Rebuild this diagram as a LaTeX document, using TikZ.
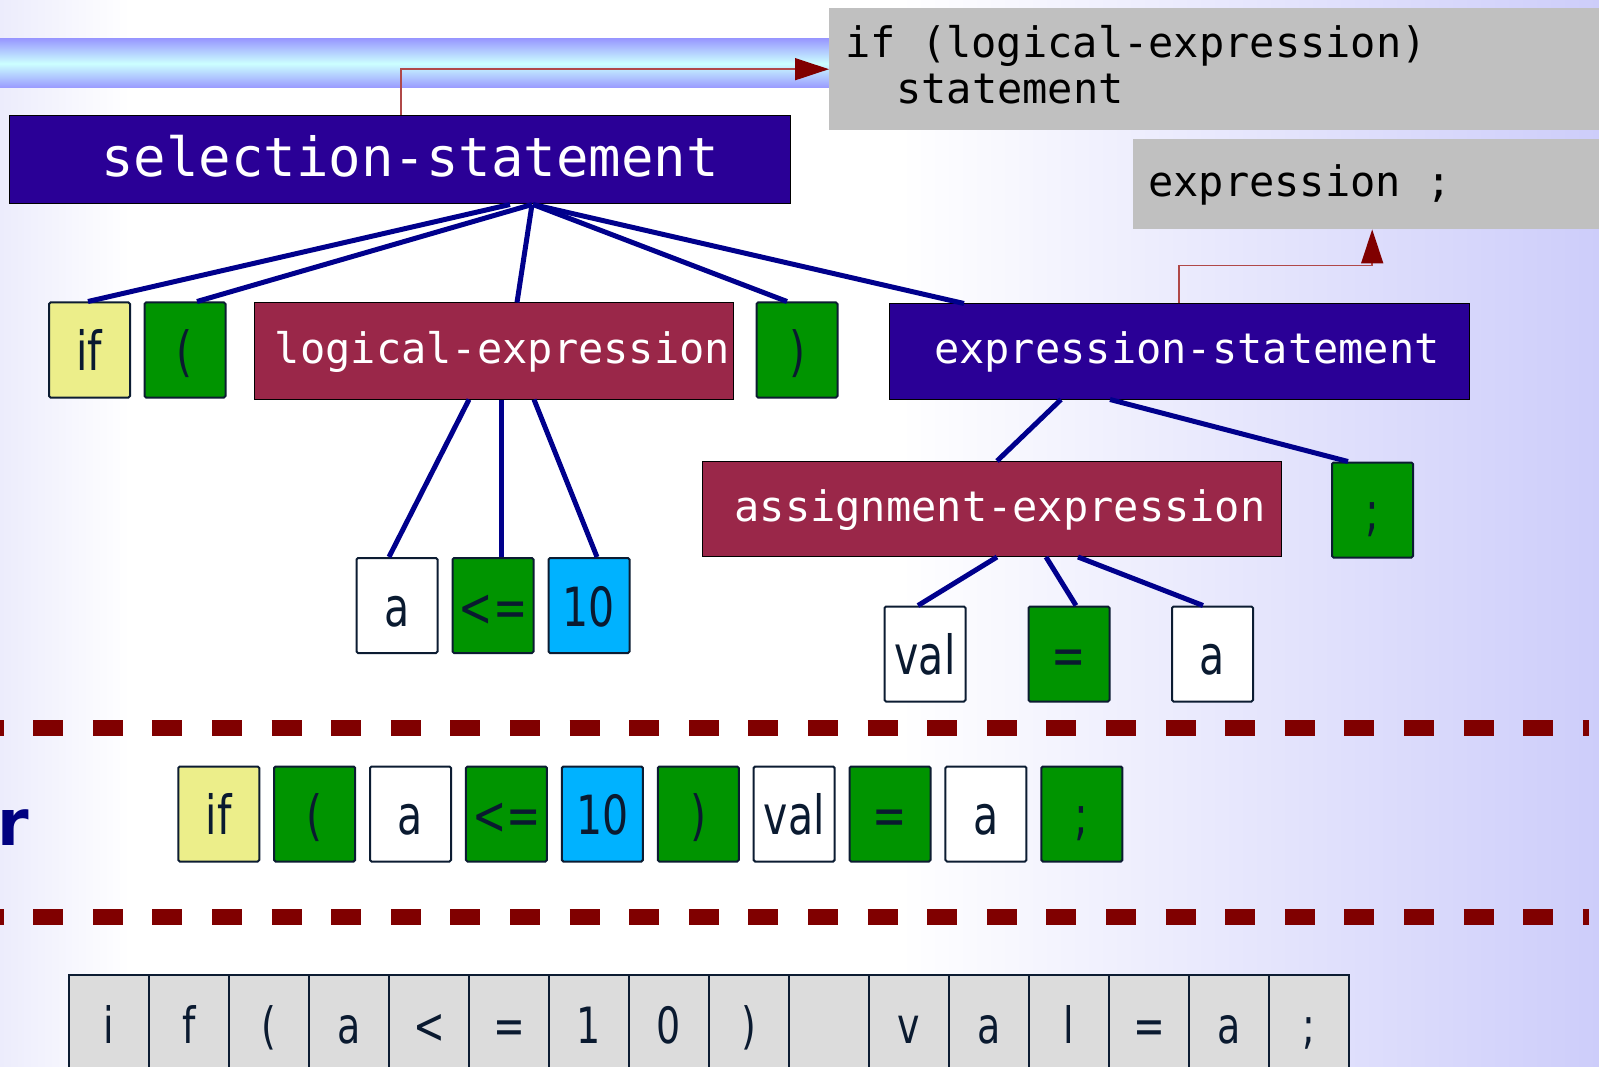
\documentclass[tikz,border=0pt]{standalone}
\usepackage{fontspec}
\setmainfont{DejaVu Sans}
\newfontfamily\monof{DejaVu Sans Mono}
\newfontfamily\tokf[FakeStretch=0.76]{DejaVu Sans}
\usetikzlibrary{arrows.meta}
\definecolor{indigo}{RGB}{42,0,150}
\definecolor{crimson}{RGB}{154,39,73}
\definecolor{tgreen}{RGB}{0,148,0}
\definecolor{tcyan}{RGB}{0,178,255}
\definecolor{khaki}{RGB}{236,238,138}
\definecolor{tokline}{RGB}{12,28,50}
\definecolor{toktext}{RGB}{10,26,48}
\definecolor{cellgray}{RGB}{220,220,220}
\definecolor{graybox}{RGB}{192,192,192}
\definecolor{edgeblue}{RGB}{0,0,140}
\definecolor{refline}{RGB}{176,72,72}
\definecolor{refdark}{RGB}{128,0,0}
\definecolor{dashred}{RGB}{128,0,0}
\definecolor{barblue}{RGB}{153,153,255}
\definecolor{barcyan}{RGB}{204,255,255}
\definecolor{bgl}{RGB}{236,236,252}
\definecolor{bgr}{RGB}{205,205,250}
\definecolor{rnavy}{RGB}{0,0,128}
\begin{document}
\begin{tikzpicture}[x=1pt,y=-1pt,
  tok/.style={draw=tokline, line width=2pt, rounded corners=1.5pt, minimum width=81pt, minimum height=95pt, inner sep=0pt, text height=41pt, text depth=0pt, text=toktext, font=\tokf\fontsize{54}{60}\selectfont},
  ntbox/.style={draw=black, line width=1pt, inner sep=0pt, text=white, font=\monof\fontsize{42}{48}\selectfont, text height=32pt, text depth=8pt},
  cell/.style={draw=tokline, line width=2pt, fill=cellgray, minimum width=80pt, inner sep=0pt, text height=68pt, text depth=50pt, anchor=north, text=toktext, font=\tokf\fontsize{50}{56}\selectfont},
  gbox/.style={fill=graybox, inner sep=0pt, anchor=north west},
  gtext/.style={anchor=base west, inner sep=0pt, text=black, font=\monof\fontsize{42}{48}\selectfont},
  edge/.style={draw=edgeblue, line width=5pt},
  refarrow/.style={draw=refline, line width=1.5pt, -{Triangle[length=34pt,width=22pt,color=refdark]}},
  dashline/.style={draw=dashred, line width=16pt, dash pattern=on 30pt off 29.6pt}
]
\useasboundingbox (0,0) rectangle (1599,1067);
% background
\fill[white] (0,0) rectangle (1599,1067);
\shade[left color=bgl, right color=white] (0,0) rectangle (130,1067);
\shade[left color=white, right color=bgr] (900,0) rectangle (1599,1067);
% top bar
\shade[top color=barblue, bottom color=barblue, middle color=barcyan] (0,39) rectangle (830,88);

% gray boxes
\node[gbox, minimum width=790pt, minimum height=122pt] (g1) at (829,8) {};
\node[gbox, minimum width=470pt, minimum height=90pt] (g2) at (1133,139) {};
\node[gtext] (g1a) at (845,58) {if (logical-expression)};
\node[gtext] (g1b) at (896,104) {statement};
\node[gtext] (g2a) at (1148,197) {expression ;};

% tree nodes
\node[ntbox, fill=indigo, minimum width=781pt, minimum height=88pt, font=\monof\fontsize{54}{60}\selectfont, text height=42pt, text depth=8pt] (sel) at (400,160) {\hspace*{20pt}selection-statement};
\node[tok, fill=khaki] (t1) at (89.5,350) {if};
\node[tok, fill=tgreen] (t2) at (185,350) {(};
\node[ntbox, fill=crimson, minimum width=479pt, minimum height=96pt] (lexp) at (493.5,351) {\hspace*{18pt}logical-expression};
\node[tok, fill=tgreen] (t3) at (797,350) {)};
\node[ntbox, fill=indigo, minimum width=580pt, minimum height=95pt] (estmt) at (1179,351.5) {\hspace*{16pt}expression-statement};

\node[tok, fill=white] (la) at (397,605.5) {a};
\node[tok, fill=tgreen] (lle) at (493,605.5) {<=};
\node[tok, fill=tcyan] (l10) at (589,605.5) {10};
\node[ntbox, fill=crimson, minimum width=579pt, minimum height=95pt] (aexp) at (991.5,509) {\hspace*{17pt}assignment-expression};
\node[tok, fill=tgreen] (semi) at (1372.5,510) {;};
\node[tok, fill=white] (aval) at (925,654) {val};
\node[tok, fill=tgreen] (aeq) at (1069,654) {=};
\node[tok, fill=white] (aa) at (1212.5,654) {a};

% reference arrows
\draw[refarrow] ([xshift=1pt]sel.north) |- (g1.west);
\draw[refarrow] (estmt.north) -- ++(0,-38) -| ([xshift=4pt]g2.south);

% tree edges
\draw[edge] ([xshift=110pt]sel.south) -- ([xshift=-1.5pt]t1.north);
\draw[edge] ([xshift=132pt]sel.south) -- ([xshift=12pt]t2.north);
\draw[edge] ([xshift=132pt]sel.south) -- ([xshift=23.5pt]lexp.north);
\draw[edge] ([xshift=133pt]sel.south) -- ([xshift=-10pt]t3.north);
\draw[edge] ([xshift=133pt]sel.south) -- ([xshift=-215pt]estmt.north);
\draw[edge] ([xshift=-24.5pt]lexp.south) -- ([xshift=-8pt]la.north);
\draw[edge] ([xshift=7.5pt]lexp.south) -- ([xshift=8pt]lle.north);
\draw[edge] ([xshift=40.5pt]lexp.south) -- ([xshift=8pt]l10.north);
\draw[edge] ([xshift=-118pt]estmt.south) -- ([xshift=5.5pt]aexp.north);
\draw[edge] ([xshift=-69pt]estmt.south) -- ([xshift=-24.5pt]semi.north);
\draw[edge] ([xshift=5.5pt]aexp.south) -- ([xshift=-7pt]aval.north);
\draw[edge] ([xshift=54.5pt]aexp.south) -- ([xshift=7pt]aeq.north);
\draw[edge] ([xshift=86.5pt]aexp.south) -- ([xshift=-9.5pt]aa.north);

% separators
\draw[dashline] (-26.4,728) -- (1589,728);
\draw[dashline] (-26.4,917) -- (1589,917);

% token row
\node[anchor=base west, inner sep=0pt, text=rnavy, font=\fontsize{64}{70}\selectfont\bfseries] (rr) at (-3,845) {r};
\node[tok, fill=khaki] (b1) at (218.75,814) {if};
\node[tok, fill=tgreen] (b2) at (314.65,814) {(};
\node[tok, fill=white] (b3) at (410.55,814) {a};
\node[tok, fill=tgreen] (b4) at (506.45,814) {<=};
\node[tok, fill=tcyan] (b5) at (602.35,814) {10};
\node[tok, fill=tgreen] (b6) at (698.25,814) {)};
\node[tok, fill=white] (b7) at (794.15,814) {val};
\node[tok, fill=tgreen] (b8) at (890.05,814) {=};
\node[tok, fill=white] (b9) at (985.95,814) {a};
\node[tok, fill=tgreen] (b10) at (1081.85,814) {;};

% character row
\node[cell] (c1) at (109,974) {i};
\node[cell] (c2) at (189,974) {f};
\node[cell] (c3) at (269,974) {(};
\node[cell] (c4) at (349,974) {a};
\node[cell] (c5) at (429,974) {<};
\node[cell] (c6) at (509,974) {=};
\node[cell] (c7) at (589,974) {1};
\node[cell] (c8) at (669,974) {0};
\node[cell] (c9) at (749,974) {)};
\node[cell] (c10) at (829,974) {};
\node[cell] (c11) at (909,974) {v};
\node[cell] (c12) at (989,974) {a};
\node[cell] (c13) at (1069,974) {l};
\node[cell] (c14) at (1149,974) {=};
\node[cell] (c15) at (1229,974) {a};
\node[cell] (c16) at (1309,974) {;};
\end{tikzpicture}
\end{document}
